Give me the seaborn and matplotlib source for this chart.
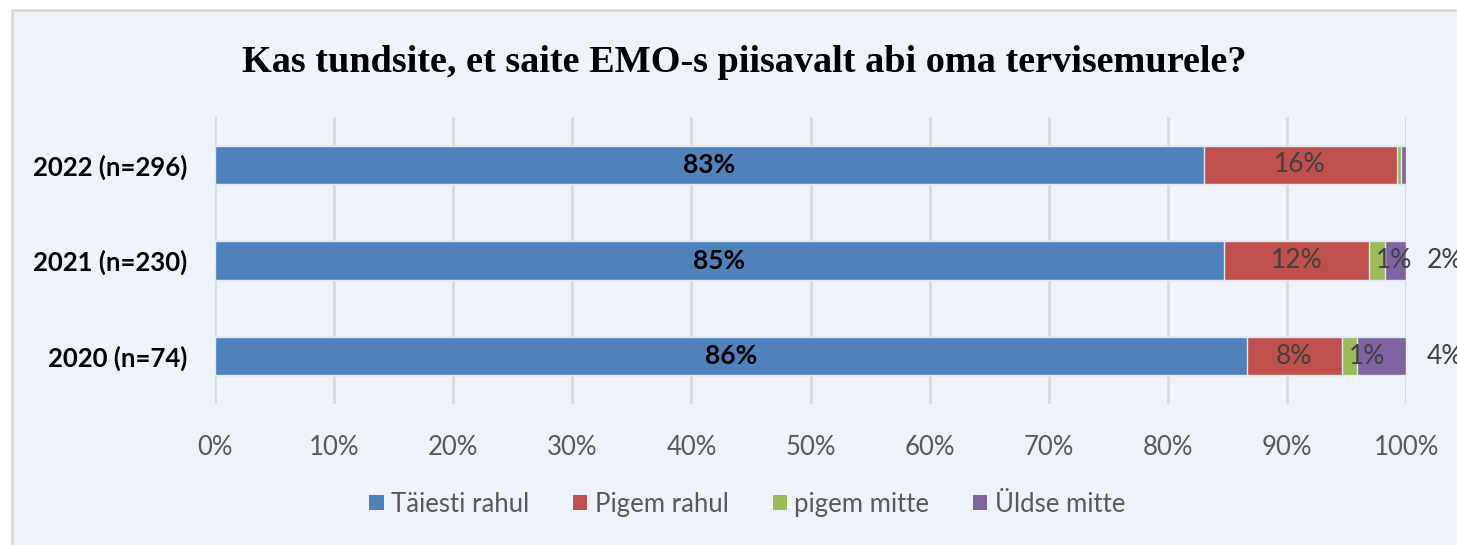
import numpy as np
import pandas as pd
import matplotlib
matplotlib.use("Agg")
import matplotlib.pyplot as plt
from matplotlib.patches import Patch, Rectangle
import seaborn as sns

# andmed (loetud pildilt)
years = ["2022 (n=296)", "2021 (n=230)", "2020 (n=74)"]
categories = ["Täiesti rahul", "Pigem rahul", "pigem mitte", "Üldse mitte"]
taiesti_rahul = [83.0, 84.7, 86.6]
pigem_rahul = [16.2, 12.2, 8.0]
pigem_mitte = [0.4, 1.3, 1.3]
uldse_mitte = [0.4, 1.8, 4.1]
labels_taiesti = ["83%", "85%", "86%"]
labels_pigem_rahul = ["16%", "12%", "8%"]
labels_pigem_mitte = ["", "1%", "1%"]
labels_uldse_mitte = ["", "2%", "4%"]
colors = ["#4f81bd", "#c0504d", "#9bbb59", "#8064a2"]
title = "Kas tundsite, et saite EMO-s piisavalt abi oma tervisemurele?"

bg = "#eef3fa"
grey_txt = "#595959"

sns.set_style("white")
plt.rcParams["font.family"] = ["Lato", "DejaVu Sans"]

df = pd.DataFrame({"aasta": years,
                   categories[0]: taiesti_rahul,
                   categories[1]: pigem_rahul,
                   categories[2]: pigem_mitte,
                   categories[3]: uldse_mitte})
cum = df[categories].cumsum(axis=1)
start = cum - df[categories]

fig = plt.figure(figsize=(14.57, 5.45), dpi=100)
fig.patch.set_facecolor("white")
fig.patches.append(Rectangle((12 / 1457, -0.01), 1.0, 1 - 10 / 545 + 0.01,
                             transform=fig.transFigure, facecolor=bg,
                             edgecolor="#d9d9d9", linewidth=2, zorder=-5))

ax = fig.add_axes([0.1476, 0.2587, 0.8175, 0.5266])
ax.set_facecolor("none")

# kuhjatud tulbad: joonistame kumulatiivsed summad tagant ettepoole
for i in range(len(categories) - 1, -1, -1):
    sns.barplot(x=cum[categories[i]], y=df["aasta"], orient="h", color=colors[i],
                width=0.4, edgecolor="#dfe8f3", linewidth=1, saturation=1,
                errorbar=None, ax=ax, zorder=3)

# sildid
for j in range(len(years)):
    mid = start[categories[0]][j] + taiesti_rahul[j] / 2
    ax.text(mid, j, labels_taiesti[j], ha="center", va="center", fontsize=19,
            fontweight="bold", color="black", zorder=5)
    mid = start[categories[1]][j] + pigem_rahul[j] / 2
    ax.text(mid, j, labels_pigem_rahul[j], ha="center", va="center", fontsize=19,
            color="#404040", zorder=5)
    ax.text(start[categories[2]][j] + 0.6, j, labels_pigem_mitte[j], ha="left",
            va="center", fontsize=19, color="#404040", zorder=5)
    ax.text(101.7, j, labels_uldse_mitte[j], ha="left", va="center", fontsize=19,
            color="#404040", zorder=5, clip_on=False)

ax.set_xlim(0, 100)
ax.set_ylim(2.5, -0.5)
ax.set_xticks(np.arange(0, 101, 10))
ax.set_xticklabels([f"{v}%" for v in range(0, 101, 10)])
ax.xaxis.grid(True, color="#d9d9d9", linewidth=2, zorder=0)
ax.set_axisbelow(True)
ax.set_xlabel("")
ax.set_ylabel("")
for s in ax.spines.values():
    s.set_visible(False)
ax.tick_params(axis="x", length=0, pad=22, labelsize=18.5, labelcolor=grey_txt)
ax.tick_params(axis="y", length=0, pad=20, labelsize=18.5)
for t in ax.get_yticklabels():
    t.set_fontweight("bold")
    t.set_color("black")

fig.text(0.511, 0.885, title, ha="center", va="center", fontsize=27.5,
         fontweight="bold", family="Liberation Serif", color="black")

handles = [Patch(facecolor=c, edgecolor="none") for c in colors]
fig.legend(handles, categories, loc="center", bbox_to_anchor=(0.513, 0.075),
           ncol=4, frameon=False, fontsize=18.5, labelcolor=grey_txt,
           handlelength=0.55, handleheight=0.55, handletextpad=0.3, columnspacing=1.7)

fig.savefig("out.png", dpi=100, facecolor=fig.get_facecolor())
